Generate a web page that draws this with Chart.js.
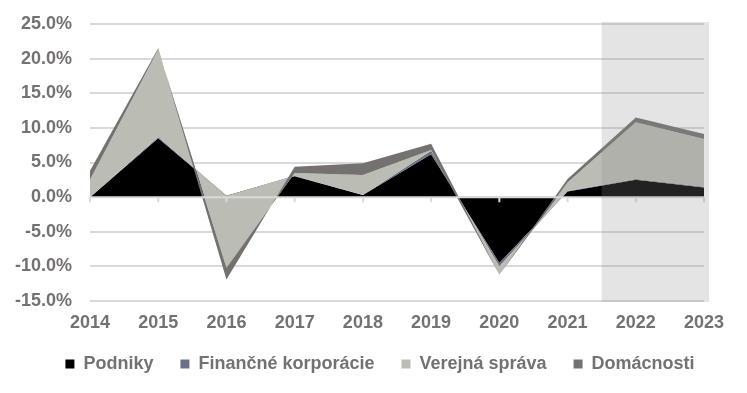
<!DOCTYPE html>
<html>
<head>
<meta charset="utf-8">
<script src="https://cdn.jsdelivr.net/npm/chart.js@4/dist/chart.umd.min.js"></script>
<style>
  html, body { margin: 0; padding: 0; background: #fff; }
  #wrap { width: 747px; height: 393px; }
</style>
</head>
<body>
<div id="wrap"><canvas id="chart" width="747" height="393"></canvas></div>
<script>
const years = ['2014', '2015', '2016', '2017', '2018', '2019', '2020', '2021', '2022', '2023'];
const podniky = [0.0, 8.5, 0.2, 3.0, 0.3, 6.2, -9.5, 0.8, 2.5, 1.4];
const financne = [0.0, 0.2, 0.0, 0.1, 0.0, 0.5, -0.5, 0.1, 0.1, 0.1];
const verejna = [2.5, 12.6, -10.4, 0.4, 2.9, 0.1, -1.2, 1.2, 8.2, 6.9];
const domacnosti = [1.3, 0.2, -1.7, 0.9, 1.7, 0.9, 0.0, 0.5, 0.7, 0.7];
const seriesNames = ['Podniky', 'Finančné korporácie', 'Verejná správa', 'Domácnosti'];
const seriesColors = ['#000000', '#6a7385', '#bbbcb3', '#767171'];
const yTicks = [25, 20, 15, 10, 5, 0, -5, -10, -15];
const shadeFrom = '2022'; // forecast years

// excel style stacking: running sum of all series, negative and positive together
const allSeries = [podniky, financne, verejna, domacnosti];
let running = years.map(() => 0);
const datasets = allSeries.map((s, k) => {
  running = running.map((v, i) => v + s[i]);
  return {
    label: seriesNames[k],
    data: running.slice(),
    backgroundColor: seriesColors[k],
    borderColor: 'transparent',
    borderWidth: 0,
    pointRadius: 0,
    tension: 0,
    fill: k === 0 ? 'origin' : '-1',
    order: allSeries.length - 1 - k   // bottom series painted first, like Excel
  };
});

const TEXT = '#767171';
const GRID = '#d9d9d9';
const LEGEND_SHIFT_X = 28;
const LEGEND_SHIFT_Y = -8;
Chart.defaults.font.family = '"Liberation Sans", Arial, sans-serif';
Chart.defaults.font.size = 18;
Chart.defaults.font.weight = 'bold';
Chart.defaults.color = TEXT;

const axisAndShade = {
  id: 'axisAndShade',
  afterLayout(chart) {
    // legend in the original is centred under the plot and sits closer to the labels
    const lg = chart.legend;
    lg.left += LEGEND_SHIFT_X;
    lg.right += LEGEND_SHIFT_X;
    lg.top += LEGEND_SHIFT_Y;
    lg.bottom += LEGEND_SHIFT_Y;
  },
  afterDatasetsDraw(chart) {
    const {ctx, chartArea, scales: {x, y}} = chart;
    const y0 = y.getPixelForValue(0);
    ctx.save();
    // horizontal axis sits on zero, above the areas
    ctx.strokeStyle = GRID;
    ctx.lineWidth = 2;
    ctx.beginPath();
    ctx.moveTo(chartArea.left, y0);
    ctx.lineTo(chartArea.right, y0);
    years.forEach((yr, i) => {
      const px = x.getPixelForValue(i);
      ctx.moveTo(px, y0);
      ctx.lineTo(px, y0 + 5);
    });
    ctx.stroke();
    // forecast shading
    const i0 = years.indexOf(shadeFrom);
    const left = (x.getPixelForValue(i0 - 1) + x.getPixelForValue(i0)) / 2;
    ctx.fillStyle = 'rgba(142,142,142,0.24)';
    ctx.fillRect(left, chartArea.top - 2, chartArea.right + 5 - left, chartArea.bottom + 1 - (chartArea.top - 2));
    ctx.restore();
  }
};

new Chart(document.getElementById('chart'), {
  type: 'line',
  data: { labels: years, datasets: datasets },
  plugins: [axisAndShade],
  options: {
    responsive: false,
    animation: false,
    maintainAspectRatio: false,
    layout: { padding: { top: 24, right: 43, bottom: 2, left: 0 } },
    plugins: {
      tooltip: { enabled: false },
      legend: {
        position: 'bottom',
        reverse: true,
        labels: {
          boxWidth: 9,
          boxHeight: 9,
          padding: 27,
          color: TEXT,
          font: { size: 18, weight: 'bold' }
        }
      }
    },
    scales: {
      x: {
        offset: false,
        grid: { display: false, drawTicks: false },
        border: { display: false },
        ticks: { padding: 11, maxRotation: 0, autoSkip: false, color: TEXT },
        afterFit(scale) { scale.height = 35; }
      },
      y: {
        min: -15,
        max: 25,
        border: { display: false },
        grid: { color: GRID, lineWidth: 2, drawTicks: false },
        afterBuildTicks(scale) { scale.ticks = yTicks.map(v => ({ value: v })); },
        ticks: {
          padding: 18,
          color: TEXT,
          callback: v => v.toFixed(1) + '%'
        },
        afterFit(scale) {
          scale.width = 90;
          scale.paddingTop = 0;
          scale.paddingBottom = 0;
        }
      }
    }
  }
});
</script>
</body>
</html>
